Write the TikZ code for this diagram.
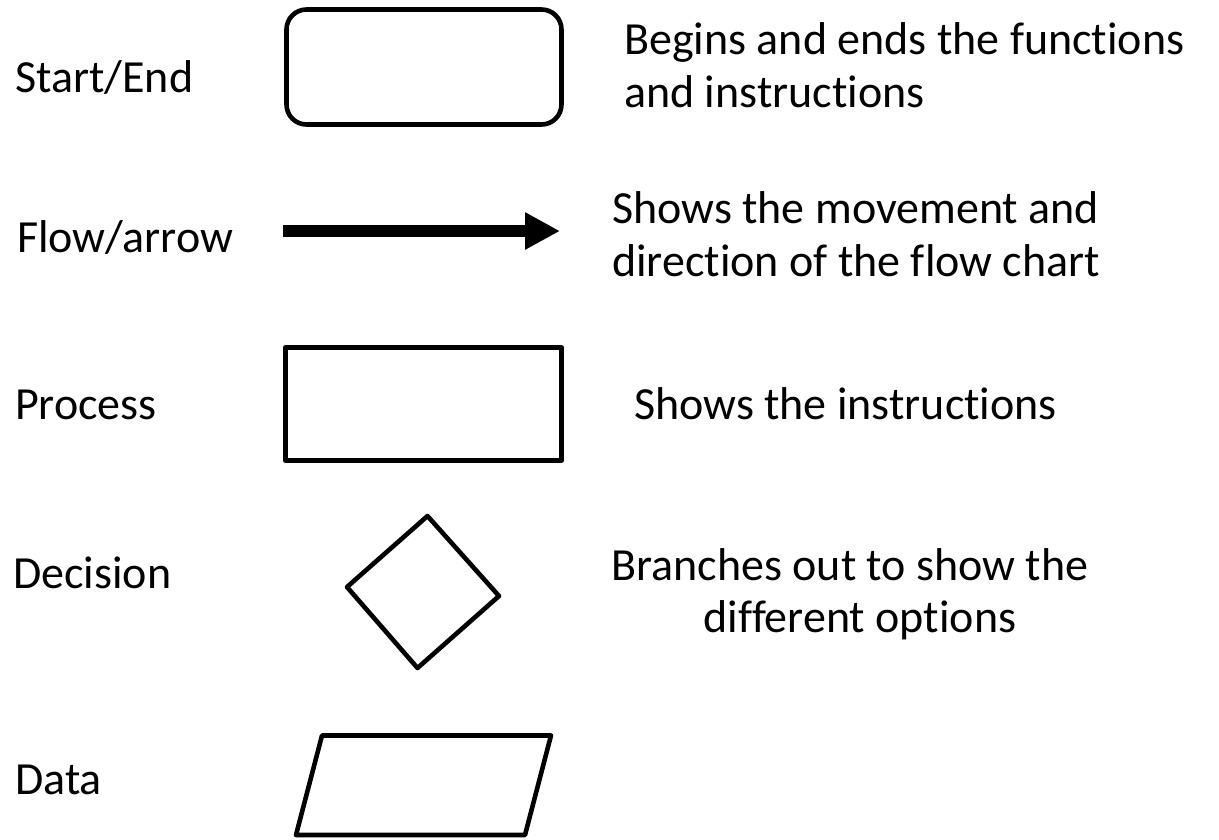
\documentclass[tikz,border=0pt]{standalone}
\usepackage{fontspec}
\setmainfont{Carlito}[Ligatures=NoCommon]
\usetikzlibrary{arrows.meta}
\begin{document}
\begin{tikzpicture}[x=1pt,y=-1pt,
  lbl/.style={anchor=base west, inner sep=0pt, font=\fontsize{46}{55}\selectfont},
  clbl/.style={anchor=base, inner sep=0pt, font=\fontsize{46}{55}\selectfont},
  symb/.style={draw, line width=4.6pt, line join=round, inner sep=0pt}]
\useasboundingbox (0,0) rectangle (1219,839);
% symbols
\node[symb, rounded corners=20pt, minimum width=275pt, minimum height=115pt] (startend) at (424,67) {};
\coordinate (arA) at (283,231);
\coordinate (arB) at (560,231);
\draw[line width=12.7pt, -{Triangle[length=35pt,width=35pt]}] (arA) -- (arB);
\node[symb, minimum width=276pt, minimum height=113pt] (process) at (423.5,404) {};
\coordinate (dT) at (427.5,516);
\coordinate (dR) at (499,596);
\coordinate (dB) at (417.5,668);
\coordinate (dL) at (347,587);
\draw[symb] (dT) -- (dR) -- (dB) -- (dL) -- cycle;
\coordinate (pTL) at (322,735.5);
\coordinate (pTR) at (551,735.5);
\coordinate (pBR) at (525,835);
\coordinate (pBL) at (296,835);
\draw[symb] (pTL) -- (pTR) -- (pBR) -- (pBL) -- cycle;
% left labels
\node[lbl] (tStart) at (15,92) {Start/End};
\node[lbl] (tFlow) at (17,252) {Flow/arrow};
\node[lbl] (tProc) at (15,419) {Process};
\node[lbl] (tDec) at (13,588) {Decision};
\node[lbl] (tData) at (15,794) {Data};
% descriptions
\node[lbl] (dStartA) at (624,54) {Begins and ends the functions};
\node[lbl] (dStartB) at (624,107) {and instructions};
\node[lbl] (dFlowA) at (612,223) {Shows the movement and};
\node[lbl] (dFlowB) at (612,276) {direction of the flow chart};
\node[lbl] (dProc) at (634,419) {Shows the instructions};
\node[clbl] (dDecA) at (850,580) {Branches out to show the};
\node[clbl] (dDecB) at (860,632) {different options};
\end{tikzpicture}
\end{document}
